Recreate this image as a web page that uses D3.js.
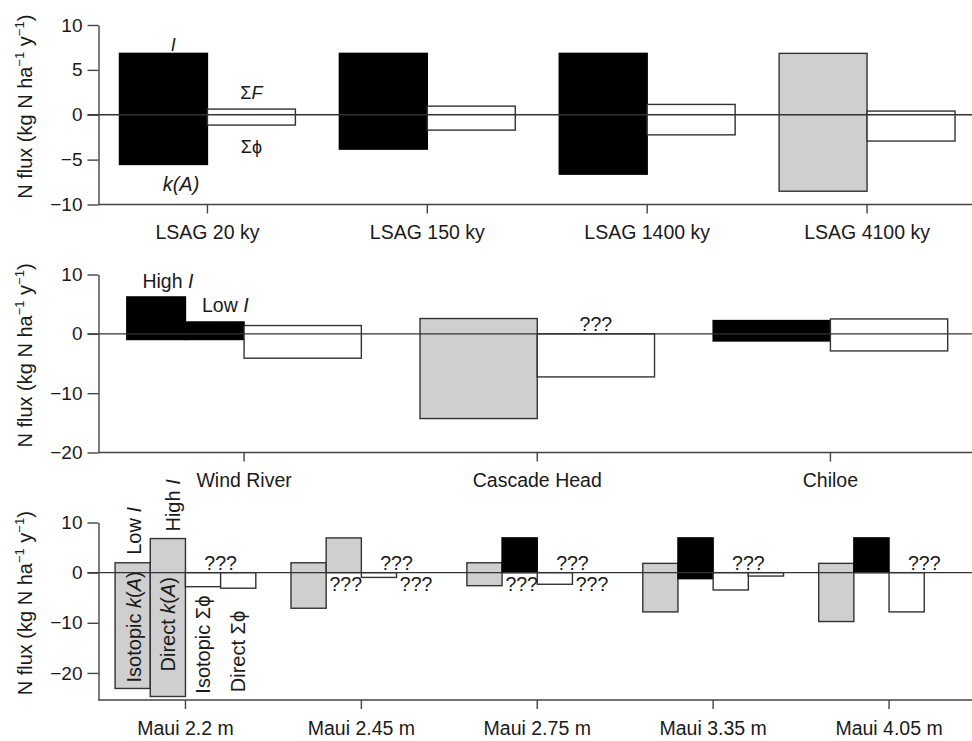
<!DOCTYPE html>
<html>
<head>
<meta charset="utf-8">
<script src="https://cdn.jsdelivr.net/npm/d3@7"></script>
<style>
  body { margin: 0; background: #fff; }
  svg { display: block; font-family: "Liberation Sans", Arial, Helvetica, sans-serif; }
</style>
</head>
<body>
<svg id="chart" width="972" height="741"></svg>
<script>
// ---- panel 1 : LSAG chronosequence
var lsagSites = ["LSAG 20 ky", "LSAG 150 ky", "LSAG 1400 ky", "LSAG 4100 ky"];
var lsagI = [6.84, 6.84, 6.84, 6.84];
var lsagKA = [-5.54, -3.83, -6.62, -8.52];
var lsagSumF = [0.63, 0.96, 1.15, 0.41];
var lsagSumPhi = [-1.15, -1.71, -2.24, -2.93];
var lsagSource = ["measured", "measured", "measured", "modelled"];

// ---- panel 2 : forest sites
var forestSites = ["Wind River", "Cascade Head", "Chiloe"];
var forestHighI = [6.22, null, null];
var forestI = [2.0, 2.58, 2.24];
var forestKA = [-0.96, -14.28, -1.2];
var forestSumF = [1.4, null, 2.51];
var forestSumPhi = [-4.11, -7.26, -2.88];
var forestSource = ["measured", "modelled", "measured"];

// ---- panel 3 : Maui rainfall gradient
var mauiSites = ["Maui 2.2 m", "Maui 2.45 m", "Maui 2.75 m", "Maui 3.35 m", "Maui 4.05 m"];
var mauiLowI = [1.97, 1.97, 1.97, 1.85, 1.85];
var mauiHighI = [6.8, 6.93, 6.93, 6.93, 6.93];
var mauiIsoKA = [-23.1, -7.1, -2.6, -7.83, -9.75];
var mauiDirectKA = [-24.7, null, null, -1.2, null];
var mauiSumF = [null, null, null, null, null];
var mauiIsoPhi = [-2.8, -0.95, -2.32, -3.46, -7.83];
var mauiDirectPhi = [-3.1, null, null, -0.68, null];
var mauiHighSource = ["modelled", "modelled", "measured", "measured", "measured"];
var mauiUnknownBelow = [false, true, true, false, false];

var fills = { measured: "#000", modelled: "#cfcfcf", flux: "#fff" };
var strokes = { measured: "#000", modelled: "#333", flux: "#333" };

var svg = d3.select("#chart");
var axisX = 98.5, rightX = 977;

var panels = [
  { sites: lsagSites, top: 25, bottom: 204.5, domain: [-10, 10], ticks: [-10, -5, 0, 5, 10] },
  { sites: forestSites, top: 274.5, bottom: 452.5, domain: [-20, 10], ticks: [-20, -10, 0, 10] },
  { sites: mauiSites, top: 522.5, bottom: 700, domain: [-25.4, 10], ticks: [-20, -10, 0, 10] }
];

panels.forEach(function(p) {
  p.x = d3.scaleBand().domain(p.sites).range([97.5, rightX]).paddingInner(0.2).paddingOuter(0.1);
  p.y = d3.scaleLinear().domain(p.domain).range([p.bottom, p.top]);
  p.g = svg.append("g");
  p.bars = p.g.append("g");
});

function bar(p, x0, w, top, bot, kind) {
  p.bars.append("rect")
    .attr("x", x0).attr("width", w)
    .attr("y", p.y(top == null ? 0 : top))
    .attr("height", p.y(bot == null ? 0 : bot) - p.y(top == null ? 0 : top))
    .attr("fill", fills[kind])
    .attr("stroke", strokes[kind])
    .attr("stroke-width", 1.4);
}

function label(p, x, y, txt, opt) {
  opt = opt || {};
  var t = p.g.append("text")
    .attr("x", x).attr("y", y)
    .attr("text-anchor", opt.anchor || "middle")
    .attr("font-size", opt.size || 19.5)
    .attr("fill", "#1a1a1a");
  txt.forEach(function(s) {
    t.append("tspan").attr("font-style", s[1] ? "italic" : null).text(s[0]);
  });
  return t;
}

function vlabel(p, cx, yStart, txt) {
  var t = p.g.append("text")
    .attr("transform", "translate(" + cx + "," + yStart + ") rotate(-90)")
    .attr("dy", "0.35em")
    .attr("font-size", 20)
    .attr("fill", "#1a1a1a");
  txt.forEach(function(s) {
    t.append("tspan").attr("font-style", s[1] ? "italic" : null).text(s[0]);
  });
}

// ---- panel 1 bars
var p1 = panels[0];
var s1 = d3.scaleBand().domain(["k", "f"]).range([0, p1.x.bandwidth()]);
lsagSites.forEach(function(c, i) {
  bar(p1, p1.x(c) + s1("k"), s1.bandwidth(), lsagI[i], lsagKA[i], lsagSource[i]);
  bar(p1, p1.x(c) + s1("f"), s1.bandwidth(), lsagSumF[i], lsagSumPhi[i], "flux");
});
var c1 = p1.x(lsagSites[0]);
label(p1, c1 + s1.bandwidth() * 0.61, p1.y(lsagI[0]) - 2, [["I", true]], { size: 18 });
label(p1, c1 + s1("f") + s1.bandwidth() / 2, p1.y(lsagSumF[0]) - 10, [["Σ", false], ["F", true]], { size: 18 });
label(p1, c1 + s1("f") + s1.bandwidth() / 2, p1.y(lsagSumPhi[0]) + 28, [["Σϕ", false]], { size: 18 });
label(p1, c1 + s1.bandwidth() * 0.7, p1.y(lsagKA[0]) + 27, [["k(A)", true]], { size: 20 });

// ---- panel 2 bars
var p2 = panels[1];
var s2 = d3.scaleBand().domain(["k", "f"]).range([0, p2.x.bandwidth()]);
forestSites.forEach(function(c, i) {
  var x0 = p2.x(c) + s2("k"), w = s2.bandwidth();
  if (forestHighI[i] != null) {
    bar(p2, x0, w / 2, forestHighI[i], forestKA[i], forestSource[i]);
    bar(p2, x0 + w / 2, w / 2, forestI[i], forestKA[i], forestSource[i]);
  } else {
    bar(p2, x0, w, forestI[i], forestKA[i], forestSource[i]);
  }
  bar(p2, p2.x(c) + s2("f"), w, forestSumF[i], forestSumPhi[i], "flux");
  if (forestSumF[i] == null)
    label(p2, p2.x(c) + s2("f") + w / 2, p2.y(0) - 3, [["???", false]]);
});
var c2 = p2.x(forestSites[0]), w2 = s2.bandwidth();
label(p2, c2 + w2 * 0.35, p2.y(forestHighI[0]) - 9, [["High ", false], ["I", true]]);
label(p2, c2 + w2 * 0.84, p2.y(forestI[0]) - 10, [["Low ", false], ["I", true]]);

// ---- panel 3 bars
var p3 = panels[2];
var s3 = d3.scaleBand().domain(["isoK", "dirK", "isoPhi", "dirPhi"]).range([0, p3.x.bandwidth()]);
var w3 = s3.bandwidth();
mauiSites.forEach(function(c, i) {
  var gx = p3.x(c);
  bar(p3, gx + s3("isoK"), w3, mauiLowI[i], mauiIsoKA[i], "modelled");
  bar(p3, gx + s3("dirK"), w3, mauiHighI[i], mauiDirectKA[i], mauiHighSource[i]);
  bar(p3, gx + s3("isoPhi"), w3, mauiSumF[i], mauiIsoPhi[i], "flux");
  if (mauiDirectPhi[i] != null)
    bar(p3, gx + s3("dirPhi"), w3, mauiSumF[i], mauiDirectPhi[i], "flux");
  if (mauiSumF[i] == null)
    label(p3, gx + s3("dirPhi"), p3.y(0) - 3, [["???", false]]);
  if (mauiUnknownBelow[i]) {
    label(p3, gx + s3("dirK") + w3 / 2 + 2, p3.y(0) + 18, [["???", false]]);
    label(p3, gx + s3("dirPhi") + w3 / 2 + 2, p3.y(0) + 18, [["???", false]]);
  }
});
var c3 = p3.x(mauiSites[0]);
vlabel(p3, c3 + s3("isoK") + w3 / 2 + 1, p3.y(mauiLowI[0]) - 8, [["Low ", false], ["I", true]]);
vlabel(p3, c3 + s3("dirK") + w3 / 2 + 5, p3.y(mauiHighI[0]) - 7, [["High ", false], ["I", true]]);
vlabel(p3, c3 + s3("isoK") + w3 / 2 + 1, p3.y(mauiIsoKA[0]) - 6, [["Isotopic ", false], ["k", true], ["(", false], ["A", true], [")", false]]);
vlabel(p3, c3 + s3("dirK") + w3 / 2, p3.y(mauiDirectKA[0]) - 25, [["Direct ", false], ["k", true], ["(", false], ["A", true], [")", false]]);
vlabel(p3, c3 + s3("isoPhi") + w3 / 2, p3.y(mauiIsoPhi[0]) + 107, [["Isotopic Σϕ", false]]);
vlabel(p3, c3 + s3("dirPhi") + w3 / 2, p3.y(mauiDirectPhi[0]) + 104, [["Direct Σϕ", false]]);

// ---- axes, zero lines, titles
panels.forEach(function(p) {
  // zero reference line over the bars
  p.g.append("line")
    .attr("x1", axisX - 11).attr("x2", rightX)
    .attr("y1", p.y(0)).attr("y2", p.y(0))
    .attr("stroke", "#333").attr("stroke-width", 1.3);

  var ya = p.g.append("g")
    .attr("transform", "translate(" + axisX + ",0)")
    .call(d3.axisLeft(p.y).tickValues(p.ticks).tickSize(11).tickSizeOuter(0).tickPadding(5));
  ya.selectAll("text").attr("font-size", 19).attr("font-family", null).attr("fill", "#1a1a1a");

  var xa = p.g.append("g")
    .attr("transform", "translate(0," + p.bottom + ")")
    .call(d3.axisBottom(p.x).tickSize(9).tickSizeOuter(0).tickPadding(12));
  xa.selectAll("text").attr("font-size", 19.5).attr("font-family", null).attr("fill", "#1a1a1a");
  xa.select(".domain").attr("d", "M" + axisX + ",0H" + rightX);

  [ya, xa].forEach(function(a) {
    a.select(".domain").attr("stroke", "#444").attr("stroke-width", 1.4);
    a.selectAll(".tick line").attr("stroke", "#444").attr("stroke-width", 1.4);
  });

  var t = p.g.append("text")
    .attr("transform", "translate(32," + ((p.top + p.bottom) / 2 - 8) + ") rotate(-90)")
    .attr("text-anchor", "middle")
    .attr("font-size", 20)
    .attr("fill", "#1a1a1a");
  t.append("tspan").text("N flux (kg N ha");
  t.append("tspan").attr("dy", -8).attr("font-size", 13).text("−1");
  t.append("tspan").attr("dy", 8).text(" y");
  t.append("tspan").attr("dy", -8).attr("font-size", 13).text("−1");
  t.append("tspan").attr("dy", 8).text(")");
});
</script>
</body>
</html>
